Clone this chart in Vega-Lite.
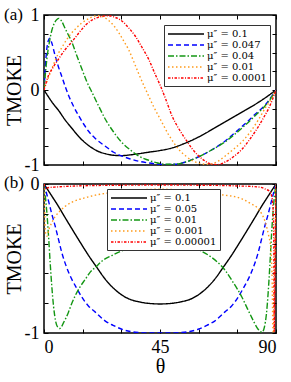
{
"$schema": "https://vega.github.io/schema/vega-lite/v6.json",
"padding": {"left": 3, "top": 5, "right": 5, "bottom": 5},
"background": "white",
"config": {
 "font": "Liberation Serif",
 "view": {"stroke": "black", "strokeWidth": 1.5},
 "axis": {"domain": false, "grid": false, "tickColor": "black", "tickSize": -4, "tickWidth": 1, "labelFont": "Liberation Serif", "labelFontSize": 18, "labelColor": "black", "labelPadding": 9, "titleFont": "Liberation Serif", "titleFontSize": 20, "titleFontWeight": "normal", "titleColor": "black"},
 "legend": {"title": null, "orient": "none", "symbolType": "M-1,0H6.2", "symbolSize": 100, "symbolStrokeWidth": 1.4, "labelFont": "DejaVu Serif", "labelFontSize": 10, "labelColor": "black", "labelOffset": 28, "rowPadding": 0, "padding": 3, "strokeColor": "#333", "fillColor": "white"},
 "title": {"font": "Liberation Serif", "fontSize": 17, "fontWeight": "normal", "color": "black", "anchor": "start", "frame": "bounds"}
},
"datasets": {
"a": [
{"s":"μ″ = 0.1","t":0,"v":0},{"s":"μ″ = 0.1","t":1.5,"v":-0.08},{"s":"μ″ = 0.1","t":3.5,"v":-0.18},{"s":"μ″ = 0.1","t":5.6,"v":-0.27},{"s":"μ″ = 0.1","t":8,"v":-0.39},{"s":"μ″ = 0.1","t":10.8,"v":-0.51},{"s":"μ″ = 0.1","t":14,"v":-0.64},{"s":"μ″ = 0.1","t":17.3,"v":-0.74},{"s":"μ″ = 0.1","t":20.5,"v":-0.81},{"s":"μ″ = 0.1","t":23.8,"v":-0.85},{"s":"μ″ = 0.1","t":27,"v":-0.87},{"s":"μ″ = 0.1","t":30.2,"v":-0.875},{"s":"μ″ = 0.1","t":33.5,"v":-0.865},{"s":"μ″ = 0.1","t":36.7,"v":-0.85},{"s":"μ″ = 0.1","t":40.5,"v":-0.83},{"s":"μ″ = 0.1","t":44.5,"v":-0.81},{"s":"μ″ = 0.1","t":50,"v":-0.77},{"s":"μ″ = 0.1","t":54,"v":-0.72},{"s":"μ″ = 0.1","t":58,"v":-0.66},{"s":"μ″ = 0.1","t":62,"v":-0.59},{"s":"μ″ = 0.1","t":66,"v":-0.51},{"s":"μ″ = 0.1","t":70,"v":-0.43},{"s":"μ″ = 0.1","t":74,"v":-0.35},{"s":"μ″ = 0.1","t":78,"v":-0.27},{"s":"μ″ = 0.1","t":82,"v":-0.19},{"s":"μ″ = 0.1","t":86,"v":-0.1},{"s":"μ″ = 0.1","t":90,"v":0},
{"s":"μ″ = 0.047","t":0,"v":0},{"s":"μ″ = 0.047","t":0.5,"v":0.3},{"s":"μ″ = 0.047","t":1,"v":0.52},{"s":"μ″ = 0.047","t":1.6,"v":0.65},{"s":"μ″ = 0.047","t":2.2,"v":0.69},{"s":"μ″ = 0.047","t":3,"v":0.63},{"s":"μ″ = 0.047","t":4.3,"v":0.46},{"s":"μ″ = 0.047","t":5.5,"v":0.32},{"s":"μ″ = 0.047","t":6.9,"v":0.18},{"s":"μ″ = 0.047","t":8.2,"v":0.05},{"s":"μ″ = 0.047","t":9.5,"v":-0.07},{"s":"μ″ = 0.047","t":11.5,"v":-0.22},{"s":"μ″ = 0.047","t":13.4,"v":-0.34},{"s":"μ″ = 0.047","t":15.5,"v":-0.46},{"s":"μ″ = 0.047","t":17.3,"v":-0.55},{"s":"μ″ = 0.047","t":20,"v":-0.65},{"s":"μ″ = 0.047","t":23.8,"v":-0.75},{"s":"μ″ = 0.047","t":27,"v":-0.83},{"s":"μ″ = 0.047","t":30.2,"v":-0.88},{"s":"μ″ = 0.047","t":33.5,"v":-0.92},{"s":"μ″ = 0.047","t":36.7,"v":-0.95},{"s":"μ″ = 0.047","t":40,"v":-0.97},{"s":"μ″ = 0.047","t":43.2,"v":-0.985},{"s":"μ″ = 0.047","t":47,"v":-0.995},{"s":"μ″ = 0.047","t":51,"v":-0.99},{"s":"μ″ = 0.047","t":55,"v":-0.96},{"s":"μ″ = 0.047","t":60,"v":-0.89},{"s":"μ″ = 0.047","t":65,"v":-0.8},{"s":"μ″ = 0.047","t":70.3,"v":-0.68},{"s":"μ″ = 0.047","t":74,"v":-0.57},{"s":"μ″ = 0.047","t":78,"v":-0.45},{"s":"μ″ = 0.047","t":82,"v":-0.32},{"s":"μ″ = 0.047","t":85.8,"v":-0.2},{"s":"μ″ = 0.047","t":88,"v":-0.1},{"s":"μ″ = 0.047","t":90,"v":0},
{"s":"μ″ = 0.04","t":0,"v":0},{"s":"μ″ = 0.04","t":0.5,"v":0.2},{"s":"μ″ = 0.04","t":1.1,"v":0.41},{"s":"μ″ = 0.04","t":2,"v":0.62},{"s":"μ″ = 0.04","t":3,"v":0.79},{"s":"μ″ = 0.04","t":4,"v":0.89},{"s":"μ″ = 0.04","t":5,"v":0.94},{"s":"μ″ = 0.04","t":5.8,"v":0.955},{"s":"μ″ = 0.04","t":6.8,"v":0.92},{"s":"μ″ = 0.04","t":8.2,"v":0.82},{"s":"μ″ = 0.04","t":9.5,"v":0.73},{"s":"μ″ = 0.04","t":10.8,"v":0.64},{"s":"μ″ = 0.04","t":12.5,"v":0.48},{"s":"μ″ = 0.04","t":14.7,"v":0.28},{"s":"μ″ = 0.04","t":16.5,"v":0.12},{"s":"μ″ = 0.04","t":18.6,"v":-0.03},{"s":"μ″ = 0.04","t":21,"v":-0.2},{"s":"μ″ = 0.04","t":23.8,"v":-0.39},{"s":"μ″ = 0.04","t":27,"v":-0.56},{"s":"μ″ = 0.04","t":30.2,"v":-0.7},{"s":"μ″ = 0.04","t":33.5,"v":-0.8},{"s":"μ″ = 0.04","t":36.7,"v":-0.88},{"s":"μ″ = 0.04","t":40,"v":-0.93},{"s":"μ″ = 0.04","t":43.2,"v":-0.965},{"s":"μ″ = 0.04","t":47,"v":-0.99},{"s":"μ″ = 0.04","t":51,"v":-0.99},{"s":"μ″ = 0.04","t":55,"v":-0.96},{"s":"μ″ = 0.04","t":60,"v":-0.89},{"s":"μ″ = 0.04","t":65,"v":-0.8},{"s":"μ″ = 0.04","t":70.3,"v":-0.69},{"s":"μ″ = 0.04","t":74,"v":-0.59},{"s":"μ″ = 0.04","t":78,"v":-0.47},{"s":"μ″ = 0.04","t":82,"v":-0.34},{"s":"μ″ = 0.04","t":85.8,"v":-0.21},{"s":"μ″ = 0.04","t":88,"v":-0.11},{"s":"μ″ = 0.04","t":90,"v":0},
{"s":"μ″ = 0.01","t":0,"v":0},{"s":"μ″ = 0.01","t":1,"v":0.1},{"s":"μ″ = 0.01","t":2,"v":0.19},{"s":"μ″ = 0.01","t":3,"v":0.28},{"s":"μ″ = 0.01","t":4.3,"v":0.39},{"s":"μ″ = 0.01","t":5.6,"v":0.49},{"s":"μ″ = 0.01","t":7,"v":0.57},{"s":"μ″ = 0.01","t":8.2,"v":0.64},{"s":"μ″ = 0.01","t":10,"v":0.73},{"s":"μ″ = 0.01","t":12.1,"v":0.81},{"s":"μ″ = 0.01","t":14.5,"v":0.89},{"s":"μ″ = 0.01","t":17.3,"v":0.95},{"s":"μ″ = 0.01","t":19.5,"v":0.985},{"s":"μ″ = 0.01","t":21.2,"v":0.99},{"s":"μ″ = 0.01","t":23,"v":0.975},{"s":"μ″ = 0.01","t":25,"v":0.93},{"s":"μ″ = 0.01","t":27,"v":0.86},{"s":"μ″ = 0.01","t":28.9,"v":0.77},{"s":"μ″ = 0.01","t":30.8,"v":0.66},{"s":"μ″ = 0.01","t":32.8,"v":0.54},{"s":"μ″ = 0.01","t":34.8,"v":0.38},{"s":"μ″ = 0.01","t":36.7,"v":0.22},{"s":"μ″ = 0.01","t":38.6,"v":0.07},{"s":"μ″ = 0.01","t":40.6,"v":-0.08},{"s":"μ″ = 0.01","t":42.5,"v":-0.22},{"s":"μ″ = 0.01","t":44.5,"v":-0.35},{"s":"μ″ = 0.01","t":46.5,"v":-0.48},{"s":"μ″ = 0.01","t":48.4,"v":-0.6},{"s":"μ″ = 0.01","t":50.3,"v":-0.7},{"s":"μ″ = 0.01","t":52.2,"v":-0.79},{"s":"μ″ = 0.01","t":55,"v":-0.88},{"s":"μ″ = 0.01","t":57.4,"v":-0.94},{"s":"μ″ = 0.01","t":60,"v":-0.975},{"s":"μ″ = 0.01","t":62.6,"v":-0.99},{"s":"μ″ = 0.01","t":65,"v":-0.985},{"s":"μ″ = 0.01","t":67.5,"v":-0.95},{"s":"μ″ = 0.01","t":70.3,"v":-0.88},{"s":"μ″ = 0.01","t":73.5,"v":-0.79},{"s":"μ″ = 0.01","t":76.8,"v":-0.69},{"s":"μ″ = 0.01","t":80,"v":-0.56},{"s":"μ″ = 0.01","t":83.3,"v":-0.39},{"s":"μ″ = 0.01","t":86,"v":-0.23},{"s":"μ″ = 0.01","t":88.5,"v":-0.1},{"s":"μ″ = 0.01","t":90,"v":0},
{"s":"μ″ = 0.0001","t":0,"v":0},{"s":"μ″ = 0.0001","t":1.7,"v":0.19},{"s":"μ″ = 0.0001","t":3.5,"v":0.3},{"s":"μ″ = 0.0001","t":5.6,"v":0.41},{"s":"μ″ = 0.0001","t":8,"v":0.53},{"s":"μ″ = 0.0001","t":10.8,"v":0.64},{"s":"μ″ = 0.0001","t":13.5,"v":0.76},{"s":"μ″ = 0.0001","t":16,"v":0.86},{"s":"μ″ = 0.0001","t":18.5,"v":0.93},{"s":"μ″ = 0.0001","t":21.2,"v":0.97},{"s":"μ″ = 0.0001","t":23,"v":0.985},{"s":"μ″ = 0.0001","t":25,"v":0.99},{"s":"μ″ = 0.0001","t":27.5,"v":0.97},{"s":"μ″ = 0.0001","t":30.2,"v":0.92},{"s":"μ″ = 0.0001","t":32.8,"v":0.83},{"s":"μ″ = 0.0001","t":35.4,"v":0.72},{"s":"μ″ = 0.0001","t":38,"v":0.57},{"s":"μ″ = 0.0001","t":40.6,"v":0.41},{"s":"μ″ = 0.0001","t":43,"v":0.22},{"s":"μ″ = 0.0001","t":45.1,"v":0.06},{"s":"μ″ = 0.0001","t":47.3,"v":-0.13},{"s":"μ″ = 0.0001","t":49.6,"v":-0.34},{"s":"μ″ = 0.0001","t":52,"v":-0.5},{"s":"μ″ = 0.0001","t":54.8,"v":-0.65},{"s":"μ″ = 0.0001","t":57.4,"v":-0.78},{"s":"μ″ = 0.0001","t":60,"v":-0.88},{"s":"μ″ = 0.0001","t":62.6,"v":-0.95},{"s":"μ″ = 0.0001","t":65.1,"v":-0.99},{"s":"μ″ = 0.0001","t":67.5,"v":-0.995},{"s":"μ″ = 0.0001","t":70.3,"v":-0.96},{"s":"μ″ = 0.0001","t":73.5,"v":-0.89},{"s":"μ″ = 0.0001","t":76.8,"v":-0.79},{"s":"μ″ = 0.0001","t":80,"v":-0.65},{"s":"μ″ = 0.0001","t":83.3,"v":-0.48},{"s":"μ″ = 0.0001","t":85.5,"v":-0.35},{"s":"μ″ = 0.0001","t":87.1,"v":-0.25},{"s":"μ″ = 0.0001","t":88.7,"v":-0.12},{"s":"μ″ = 0.0001","t":90,"v":0}
],
"b": [
{"s":"μ″ = 0.1","t":0,"v":0},{"s":"μ″ = 0.1","t":3,"v":-0.08},{"s":"μ″ = 0.1","t":5.6,"v":-0.15},{"s":"μ″ = 0.1","t":8,"v":-0.22},{"s":"μ″ = 0.1","t":10.8,"v":-0.3},{"s":"μ″ = 0.1","t":14,"v":-0.39},{"s":"μ″ = 0.1","t":17.3,"v":-0.48},{"s":"μ″ = 0.1","t":20.5,"v":-0.56},{"s":"μ″ = 0.1","t":23.8,"v":-0.64},{"s":"μ″ = 0.1","t":27,"v":-0.7},{"s":"μ″ = 0.1","t":30.2,"v":-0.745},{"s":"μ″ = 0.1","t":33.5,"v":-0.775},{"s":"μ″ = 0.1","t":36.7,"v":-0.79},{"s":"μ″ = 0.1","t":40,"v":-0.8},{"s":"μ″ = 0.1","t":45,"v":-0.805},{"s":"μ″ = 0.1","t":50,"v":-0.8},{"s":"μ″ = 0.1","t":53.3,"v":-0.79},{"s":"μ″ = 0.1","t":56.5,"v":-0.775},{"s":"μ″ = 0.1","t":59.8,"v":-0.745},{"s":"μ″ = 0.1","t":63,"v":-0.7},{"s":"μ″ = 0.1","t":66.2,"v":-0.64},{"s":"μ″ = 0.1","t":69.5,"v":-0.56},{"s":"μ″ = 0.1","t":72.7,"v":-0.48},{"s":"μ″ = 0.1","t":76,"v":-0.39},{"s":"μ″ = 0.1","t":79.2,"v":-0.3},{"s":"μ″ = 0.1","t":82,"v":-0.22},{"s":"μ″ = 0.1","t":84.4,"v":-0.15},{"s":"μ″ = 0.1","t":87,"v":-0.08},{"s":"μ″ = 0.1","t":90,"v":0},
{"s":"μ″ = 0.05","t":0,"v":0},{"s":"μ″ = 0.05","t":0.8,"v":-0.05},{"s":"μ″ = 0.05","t":1.7,"v":-0.11},{"s":"μ″ = 0.05","t":3,"v":-0.2},{"s":"μ″ = 0.05","t":4.3,"v":-0.28},{"s":"μ″ = 0.05","t":5.6,"v":-0.37},{"s":"μ″ = 0.05","t":6.9,"v":-0.46},{"s":"μ″ = 0.05","t":8.8,"v":-0.56},{"s":"μ″ = 0.05","t":10.8,"v":-0.64},{"s":"μ″ = 0.05","t":12.7,"v":-0.7},{"s":"μ″ = 0.05","t":14.7,"v":-0.76},{"s":"μ″ = 0.05","t":17.3,"v":-0.82},{"s":"μ″ = 0.05","t":19.9,"v":-0.86},{"s":"μ″ = 0.05","t":23.8,"v":-0.92},{"s":"μ″ = 0.05","t":27,"v":-0.95},{"s":"μ″ = 0.05","t":30.2,"v":-0.975},{"s":"μ″ = 0.05","t":33.5,"v":-0.99},{"s":"μ″ = 0.05","t":36.7,"v":-0.997},{"s":"μ″ = 0.05","t":40,"v":-1},{"s":"μ″ = 0.05","t":45,"v":-1},{"s":"μ″ = 0.05","t":50,"v":-1},{"s":"μ″ = 0.05","t":53.3,"v":-0.997},{"s":"μ″ = 0.05","t":56.5,"v":-0.99},{"s":"μ″ = 0.05","t":59.8,"v":-0.975},{"s":"μ″ = 0.05","t":63,"v":-0.95},{"s":"μ″ = 0.05","t":66.2,"v":-0.92},{"s":"μ″ = 0.05","t":70.1,"v":-0.86},{"s":"μ″ = 0.05","t":72.7,"v":-0.82},{"s":"μ″ = 0.05","t":75.3,"v":-0.76},{"s":"μ″ = 0.05","t":77.3,"v":-0.7},{"s":"μ″ = 0.05","t":79.2,"v":-0.64},{"s":"μ″ = 0.05","t":81.2,"v":-0.56},{"s":"μ″ = 0.05","t":83.1,"v":-0.46},{"s":"μ″ = 0.05","t":84.4,"v":-0.37},{"s":"μ″ = 0.05","t":85.7,"v":-0.28},{"s":"μ″ = 0.05","t":87,"v":-0.2},{"s":"μ″ = 0.05","t":88.3,"v":-0.11},{"s":"μ″ = 0.05","t":89.2,"v":-0.05},{"s":"μ″ = 0.05","t":90,"v":0},
{"s":"μ″ = 0.01","t":0,"v":0},{"s":"μ″ = 0.01","t":0.5,"v":-0.08},{"s":"μ″ = 0.01","t":1.1,"v":-0.19},{"s":"μ″ = 0.01","t":1.8,"v":-0.36},{"s":"μ″ = 0.01","t":2.4,"v":-0.53},{"s":"μ″ = 0.01","t":3,"v":-0.68},{"s":"μ″ = 0.01","t":3.7,"v":-0.82},{"s":"μ″ = 0.01","t":4.5,"v":-0.92},{"s":"μ″ = 0.01","t":5.3,"v":-0.96},{"s":"μ″ = 0.01","t":6.1,"v":-0.97},{"s":"μ″ = 0.01","t":6.9,"v":-0.955},{"s":"μ″ = 0.01","t":7.6,"v":-0.93},{"s":"μ″ = 0.01","t":8.5,"v":-0.9},{"s":"μ″ = 0.01","t":9.5,"v":-0.86},{"s":"μ″ = 0.01","t":10.8,"v":-0.8},{"s":"μ″ = 0.01","t":12.1,"v":-0.75},{"s":"μ″ = 0.01","t":14,"v":-0.69},{"s":"μ″ = 0.01","t":16,"v":-0.64},{"s":"μ″ = 0.01","t":18,"v":-0.59},{"s":"μ″ = 0.01","t":19.9,"v":-0.56},{"s":"μ″ = 0.01","t":23,"v":-0.51},{"s":"μ″ = 0.01","t":26.3,"v":-0.48},{"s":"μ″ = 0.01","t":30,"v":-0.45},{"s":"μ″ = 0.01","t":34.1,"v":-0.42},{"s":"μ″ = 0.01","t":38,"v":-0.4},{"s":"μ″ = 0.01","t":41,"v":-0.39},{"s":"μ″ = 0.01","t":45,"v":-0.385},{"s":"μ″ = 0.01","t":49,"v":-0.39},{"s":"μ″ = 0.01","t":53,"v":-0.4},{"s":"μ″ = 0.01","t":57,"v":-0.42},{"s":"μ″ = 0.01","t":61,"v":-0.45},{"s":"μ″ = 0.01","t":64,"v":-0.48},{"s":"μ″ = 0.01","t":67,"v":-0.52},{"s":"μ″ = 0.01","t":70.3,"v":-0.58},{"s":"μ″ = 0.01","t":73,"v":-0.65},{"s":"μ″ = 0.01","t":76.8,"v":-0.76},{"s":"μ″ = 0.01","t":79,"v":-0.84},{"s":"μ″ = 0.01","t":80.7,"v":-0.9},{"s":"μ″ = 0.01","t":82.5,"v":-0.96},{"s":"μ″ = 0.01","t":83.6,"v":-0.985},{"s":"μ″ = 0.01","t":84.6,"v":-0.995},{"s":"μ″ = 0.01","t":85.5,"v":-0.96},{"s":"μ″ = 0.01","t":86.3,"v":-0.87},{"s":"μ″ = 0.01","t":87,"v":-0.72},{"s":"μ″ = 0.01","t":87.6,"v":-0.55},{"s":"μ″ = 0.01","t":88.2,"v":-0.36},{"s":"μ″ = 0.01","t":88.8,"v":-0.2},{"s":"μ″ = 0.01","t":89.4,"v":-0.08},{"s":"μ″ = 0.01","t":90,"v":0},
{"s":"μ″ = 0.001","t":0,"v":0},{"s":"μ″ = 0.001","t":0.3,"v":-0.22},{"s":"μ″ = 0.001","t":0.7,"v":-0.34},{"s":"μ″ = 0.001","t":1.1,"v":-0.35},{"s":"μ″ = 0.001","t":2,"v":-0.3},{"s":"μ″ = 0.001","t":3,"v":-0.26},{"s":"μ″ = 0.001","t":4.3,"v":-0.22},{"s":"μ″ = 0.001","t":6,"v":-0.185},{"s":"μ″ = 0.001","t":8.2,"v":-0.15},{"s":"μ″ = 0.001","t":10.5,"v":-0.125},{"s":"μ″ = 0.001","t":13.4,"v":-0.105},{"s":"μ″ = 0.001","t":16.5,"v":-0.09},{"s":"μ″ = 0.001","t":19.9,"v":-0.075},{"s":"μ″ = 0.001","t":25,"v":-0.06},{"s":"μ″ = 0.001","t":30.2,"v":-0.05},{"s":"μ″ = 0.001","t":37,"v":-0.04},{"s":"μ″ = 0.001","t":45,"v":-0.035},{"s":"μ″ = 0.001","t":53,"v":-0.04},{"s":"μ″ = 0.001","t":60,"v":-0.05},{"s":"μ″ = 0.001","t":64,"v":-0.06},{"s":"μ″ = 0.001","t":70,"v":-0.075},{"s":"μ″ = 0.001","t":74,"v":-0.085},{"s":"μ″ = 0.001","t":76.8,"v":-0.1},{"s":"μ″ = 0.001","t":80,"v":-0.13},{"s":"μ″ = 0.001","t":83.3,"v":-0.17},{"s":"μ″ = 0.001","t":85.9,"v":-0.26},{"s":"μ″ = 0.001","t":87.2,"v":-0.35},{"s":"μ″ = 0.001","t":87.9,"v":-0.42},{"s":"μ″ = 0.001","t":88.5,"v":-0.64},{"s":"μ″ = 0.001","t":88.8,"v":-0.97},{"s":"μ″ = 0.001","t":89,"v":-1},{"s":"μ″ = 0.001","t":89.4,"v":-0.6},{"s":"μ″ = 0.001","t":90,"v":0},
{"s":"μ″ = 0.00001","t":0,"v":0},{"s":"μ″ = 0.00001","t":0.3,"v":-0.03},{"s":"μ″ = 0.00001","t":1.5,"v":-0.025},{"s":"μ″ = 0.00001","t":5,"v":-0.02},{"s":"μ″ = 0.00001","t":15,"v":-0.012},{"s":"μ″ = 0.00001","t":30,"v":-0.008},{"s":"μ″ = 0.00001","t":45,"v":-0.007},{"s":"μ″ = 0.00001","t":60,"v":-0.008},{"s":"μ″ = 0.00001","t":75,"v":-0.013},{"s":"μ″ = 0.00001","t":83.3,"v":-0.02},{"s":"μ″ = 0.00001","t":86,"v":-0.035},{"s":"μ″ = 0.00001","t":87.5,"v":-0.05},{"s":"μ″ = 0.00001","t":88.3,"v":-0.08},{"s":"μ″ = 0.00001","t":88.8,"v":-0.15},{"s":"μ″ = 0.00001","t":89.1,"v":-0.32},{"s":"μ″ = 0.00001","t":89.35,"v":-0.99},{"s":"μ″ = 0.00001","t":89.6,"v":-0.6},{"s":"μ″ = 0.00001","t":90,"v":0}
]
},
"spacing": 19,
"bounds": "flush",
"resolve": {"scale": {"color": "independent", "strokeDash": "independent"}, "legend": {"color": "independent", "strokeDash": "independent"}},
"vconcat": [
{
 "title": {"text": "(a)", "dx": 0, "dy": 6, "offset": -12},
 "width": 232, "height": 150,
 "data": {"name": "a"},
 "resolve": {"axis": {"x": "independent", "y": "independent"}},
 "layer": [
  {"mark": {"type": "line", "strokeWidth": 1.4, "interpolate": "monotone", "clip": true},
   "encoding": {
    "x": {"field": "t", "type": "quantitative", "scale": {"domain": [0, 90], "nice": false, "zero": false}, "axis": {"orient": "bottom", "values": [0,15,30,45,60,75,90], "labels": false, "title": null}},
    "y": {"field": "v", "type": "quantitative", "scale": {"domain": [-1, 1], "nice": false}, "axis": {"orient": "left", "values": [-1,-0.75,-0.5,-0.25,0,0.25,0.5,0.75,1], "labelExpr": "datum.value == 1 ? '1' : datum.value == 0 ? '0' : datum.value == -1 ? '-1' : ''", "title": "TMOKE", "titlePadding": 0}},
    "color": {"field": "s", "type": "nominal", "sort": null, "scale": {"domain": ["μ″ = 0.1","μ″ = 0.047","μ″ = 0.04","μ″ = 0.01","μ″ = 0.0001"], "range": ["#000000","#0000ff","#139613","#ff9a1a","#ff0000"]}, "legend": {"legendX": 120, "legendY": 10}},
    "strokeDash": {"field": "s", "type": "nominal", "sort": null, "scale": {"domain": ["μ″ = 0.1","μ″ = 0.047","μ″ = 0.04","μ″ = 0.01","μ″ = 0.0001"], "range": [[1,0],[5,3],[6,2,1.5,2],[1.5,2.5],[2.5,1.5,1,1.5]]}, "legend": {"legendX": 120, "legendY": 10}}
   }},
  {"mark": {"type": "line", "opacity": 0},
   "encoding": {
    "x": {"field": "t", "type": "quantitative", "axis": {"orient": "top", "values": [0,15,30,45,60,75,90], "labels": false, "title": null}},
    "y": {"field": "v", "type": "quantitative", "axis": {"orient": "right", "values": [-1,-0.75,-0.5,-0.25,0,0.25,0.5,0.75,1], "labels": false, "title": null}}
   }}
 ]
},
{
 "title": {"text": "(b)", "dx": 0, "dy": 4, "offset": -13},
 "width": 232, "height": 149,
 "data": {"name": "b"},
 "resolve": {"axis": {"x": "independent", "y": "independent"}},
 "layer": [
  {"mark": {"type": "line", "strokeWidth": 1.4, "interpolate": "monotone", "clip": true},
   "encoding": {
    "x": {"field": "t", "type": "quantitative", "scale": {"domain": [0, 90], "nice": false, "zero": false}, "axis": {"orient": "bottom", "values": [0,15,30,45,60,75,90], "labelExpr": "datum.value % 45 == 0 ? datum.label : ''", "title": "θ", "titlePadding": 0}},
    "y": {"field": "v", "type": "quantitative", "scale": {"domain": [-1, 0], "nice": false}, "axis": {"orient": "left", "values": [-1,-0.8,-0.6,-0.4,-0.2,0], "labelExpr": "datum.value == 0 ? '0' : datum.value == -1 ? '-1' : ''", "title": "TMOKE", "titlePadding": 0}},
    "color": {"field": "s", "type": "nominal", "sort": null, "scale": {"domain": ["μ″ = 0.1","μ″ = 0.05","μ″ = 0.01","μ″ = 0.001","μ″ = 0.00001"], "range": ["#000000","#0000ff","#139613","#ff9a1a","#ff0000"]}, "legend": {"legendX": 63, "legendY": 5}},
    "strokeDash": {"field": "s", "type": "nominal", "sort": null, "scale": {"domain": ["μ″ = 0.1","μ″ = 0.05","μ″ = 0.01","μ″ = 0.001","μ″ = 0.00001"], "range": [[1,0],[5,3],[6,2,1.5,2],[1.5,2.5],[2.5,1.5,1,1.5]]}, "legend": {"legendX": 63, "legendY": 5}}
   }},
  {"mark": {"type": "line", "opacity": 0},
   "encoding": {
    "x": {"field": "t", "type": "quantitative", "axis": {"orient": "top", "values": [0,15,30,45,60,75,90], "labels": false, "title": null}},
    "y": {"field": "v", "type": "quantitative", "axis": {"orient": "right", "values": [-1,-0.8,-0.6,-0.4,-0.2,0], "labels": false, "title": null}}
   }}
 ]
}
]
}
